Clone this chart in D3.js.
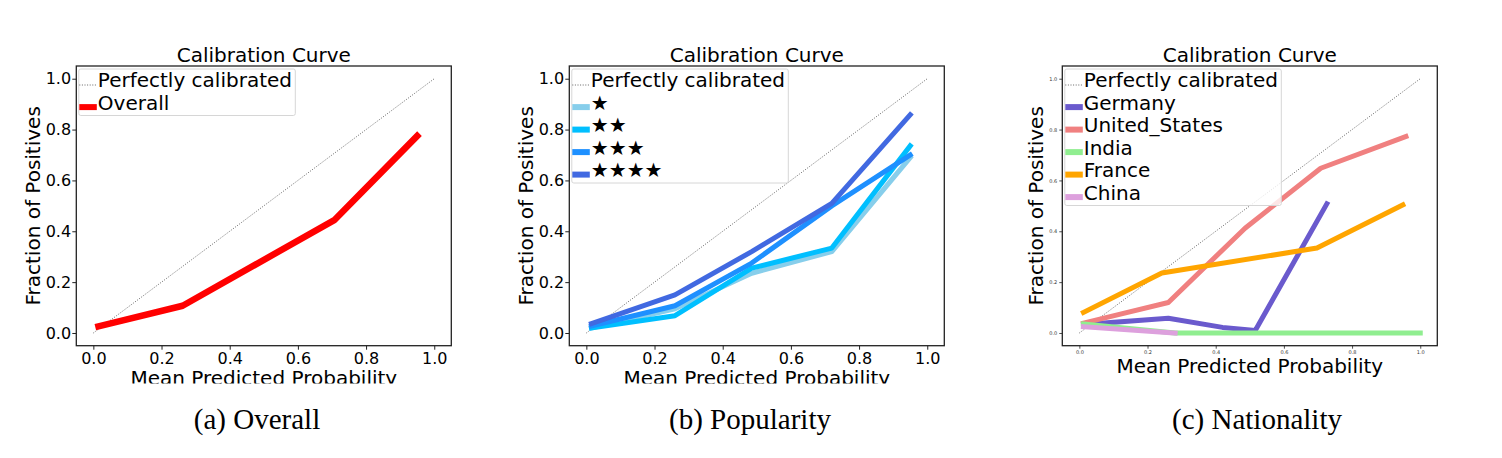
<!DOCTYPE html>
<html>
<head>
<meta charset="utf-8">
<script src="https://cdn.jsdelivr.net/npm/d3@7"></script>
<style>
  body { margin: 0; background: #fff; }
  svg { display: block; }
</style>
</head>
<body>
<div id="chart-area"></div>
<script>
// tick values shared by every panel
const TICKS = [0, 0.2, 0.4, 0.6, 0.8, 1.0];
const DIAGONAL = [0, 1];

// (a) overall
const overallX = [0.015, 0.262, 0.708, 0.95];
const overallY = [0.026, 0.107, 0.445, 0.775];

// (b) popularity
const popX = [0.015, 0.26, 0.485, 0.72, 0.95];
const star1Y = [0.02, 0.095, 0.235, 0.32, 0.69];
const star2Y = [0.02, 0.068, 0.255, 0.334, 0.736];
const star3Y = [0.028, 0.107, 0.275, 0.50, 0.70];
const star4Y = [0.037, 0.15, 0.32, 0.51, 0.858];

// (c) nationality
const germanyX = [0.012, 0.261, 0.42, 0.516, 0.726];
const germanyY = [0.033, 0.058, 0.022, 0.01, 0.508];
const usX = [0.012, 0.261, 0.486, 0.708, 0.958];
const usY = [0.039, 0.12, 0.412, 0.648, 0.773];
const indiaX = [0.012, 0.281, 0.5, 0.72, 1.0];
const indiaY = [0.035, 0, 0, 0, 0];
const franceX = [0.012, 0.242, 0.697, 0.949];
const franceY = [0.081, 0.236, 0.334, 0.504];
const chinaX = [0.012, 0.281];
const chinaY = [0.025, 0];

const zip = (xs, ys) => xs.map((x, i) => ({ x, y: ys[i] }));

const PANELS = [
  {
    id: 'a', left: 76.3, caption: '(a) Overall', captionX: 257, yLabelX: 33,
    tickFont: 16, xLabelY: 385, clipLabel: true, lineWidth: 6.5,
    series: [{ name: 'Overall', color: '#ff0000', data: zip(overallX, overallY) }],
  },
  {
    id: 'b', left: 569.3, caption: '(b) Popularity', captionX: 750, yLabelX: 526,
    tickFont: 16, xLabelY: 385, clipLabel: true, lineWidth: 5,
    series: [
      { name: '★', color: '#87ceeb', data: zip(popX, star1Y) },
      { name: '★★', color: '#00bfff', data: zip(popX, star2Y) },
      { name: '★★★', color: '#1e90ff', data: zip(popX, star3Y) },
      { name: '★★★★', color: '#4169e1', data: zip(popX, star4Y) },
    ],
  },
  {
    id: 'c', left: 1062.3, caption: '(c) Nationality', captionX: 1257, yLabelX: 1036,
    tickFont: 5, xLabelY: 373, clipLabel: false, lineWidth: 5,
    series: [
      { name: 'Germany', color: '#6a5acd', data: zip(germanyX, germanyY) },
      { name: 'United_States', color: '#f08080', data: zip(usX, usY) },
      { name: 'India', color: '#90ee90', data: zip(indiaX, indiaY) },
      { name: 'France', color: '#ffa500', data: zip(franceX, franceY) },
      { name: 'China', color: '#dda0dd', data: zip(chinaX, chinaY) },
    ],
  },
];

const W = 1502;
const H = 458;
const boxW = 375;
const plotTop = 66;
const plotBottom = 345.7;
const FONT = "'DejaVu Sans', sans-serif";

const svg = d3.select('#chart-area')
  .append('svg')
  .attr('width', W)
  .attr('height', H)
  .style('font-family', FONT);

const drawPanel = (p) => {
  const x = d3.scaleLinear().domain([-0.05, 1.05]).range([p.left, p.left + boxW]);
  const y = d3.scaleLinear().domain([-0.05, 1.05]).range([plotBottom, plotTop]);
  const g = svg.append('g').attr('class', 'panel-' + p.id);
  const small = p.tickFont < 10;

  const xAxis = d3.axisBottom(x)
    .tickValues(TICKS)
    .tickFormat(d3.format('.1f'))
    .tickSize(small ? 3 : 4)
    .tickPadding(small ? 2 : 2.5);
  const yAxis = d3.axisLeft(y)
    .tickValues(TICKS)
    .tickFormat(d3.format('.1f'))
    .tickSize(small ? 3 : 4)
    .tickPadding(small ? 2 : 1.2);

  g.append('g')
    .attr('transform', 'translate(0,' + plotBottom + ')')
    .call(xAxis)
    .call((a) => a.select('.domain').remove());
  g.append('g')
    .attr('transform', 'translate(' + p.left + ',0)')
    .call(yAxis)
    .call((a) => a.select('.domain').remove());

  g.selectAll('.tick text')
    .attr('font-family', FONT)
    .attr('font-size', p.tickFont)
    .attr('fill', small ? '#333' : '#000');
  g.selectAll('.tick line')
    .attr('stroke', '#222')
    .attr('stroke-width', small ? 0.8 : 1);

  // perfectly calibrated diagonal
  const line = d3.line().x((d) => x(d.x)).y((d) => y(d.y));
  g.append('path')
    .attr('d', line(zip(DIAGONAL, DIAGONAL)))
    .attr('fill', 'none')
    .attr('stroke', '#555')
    .attr('stroke-width', 0.9)
    .attr('stroke-dasharray', '1 1.6');

  g.selectAll('.curve')
    .data(p.series)
    .enter()
    .append('path')
    .attr('class', 'curve')
    .attr('d', (s) => line(s.data))
    .attr('fill', 'none')
    .attr('stroke', (s) => s.color)
    .attr('stroke-width', p.lineWidth)
    .attr('stroke-linecap', 'square')
    .attr('stroke-linejoin', 'round');

  // frame
  g.append('rect')
    .attr('x', p.left)
    .attr('y', plotTop)
    .attr('width', boxW)
    .attr('height', plotBottom - plotTop)
    .attr('fill', 'none')
    .attr('stroke', '#222')
    .attr('stroke-width', 1.3);

  // legend
  const lx = p.left + 2.5;
  const rowH = 22.5;
  const entries = [{ name: 'Perfectly calibrated', dotted: true }].concat(p.series);
  const legend = g.append('g').attr('class', 'legend');
  legend.append('rect')
    .attr('x', lx)
    .attr('y', plotTop + 3)
    .attr('width', 216.5)
    .attr('height', 23 + rowH * (entries.length - 1) + 1)
    .attr('rx', 2)
    .attr('fill', 'rgba(255,255,255,0.8)')
    .attr('stroke', '#d6d6d6')
    .attr('stroke-width', 1);

  const rows = legend.selectAll('.row')
    .data(entries)
    .enter()
    .append('g')
    .attr('transform', (d, i) => 'translate(0,' + (87.3 + i * rowH) + ')');

  rows.append('line')
    .attr('x1', lx + 0.5)
    .attr('x2', lx + 18)
    .attr('y1', (d) => d.dotted ? -2.3 : -2.7)
    .attr('y2', (d) => d.dotted ? -2.3 : -2.7)
    .attr('stroke', (d) => d.dotted ? '#555' : d.color)
    .attr('stroke-width', (d) => d.dotted ? 0.9 : 6)
    .attr('stroke-dasharray', (d) => d.dotted ? '1 1.6' : null);

  rows.append('text')
    .attr('x', lx + 19)
    .attr('font-size', 20)
    .attr('fill', '#000')
    .text((d) => d.name);

  // title and axis labels
  const cx = p.left + boxW / 2;
  g.append('text')
    .attr('x', cx)
    .attr('y', 62)
    .attr('text-anchor', 'middle')
    .attr('font-size', 20)
    .text('Calibration Curve');

  g.append('text')
    .attr('transform', 'translate(' + p.yLabelX + ',' + (plotTop + plotBottom) / 2 + ') rotate(-90)')
    .attr('dy', '0.36em')
    .attr('text-anchor', 'middle')
    .attr('font-size', 20)
    .text('Fraction of Positives');

  if (p.clipLabel) {
    svg.append('clipPath')
      .attr('id', 'clip-' + p.id)
      .append('rect')
      .attr('x', p.left - 80)
      .attr('y', 360)
      .attr('width', boxW + 160)
      .attr('height', 23.6);
  }
  g.append('text')
    .attr('x', cx)
    .attr('y', p.xLabelY)
    .attr('text-anchor', 'middle')
    .attr('font-size', 20)
    .attr('clip-path', p.clipLabel ? 'url(#clip-' + p.id + ')' : null)
    .text('Mean Predicted Probability');

  svg.append('text')
    .attr('x', p.captionX)
    .attr('y', 428.5)
    .attr('text-anchor', 'middle')
    .attr('font-family', "'Liberation Serif', 'Times New Roman', serif")
    .attr('font-size', 29)
    .text(p.caption);
};

PANELS.forEach(drawPanel);
</script>
</body>
</html>
